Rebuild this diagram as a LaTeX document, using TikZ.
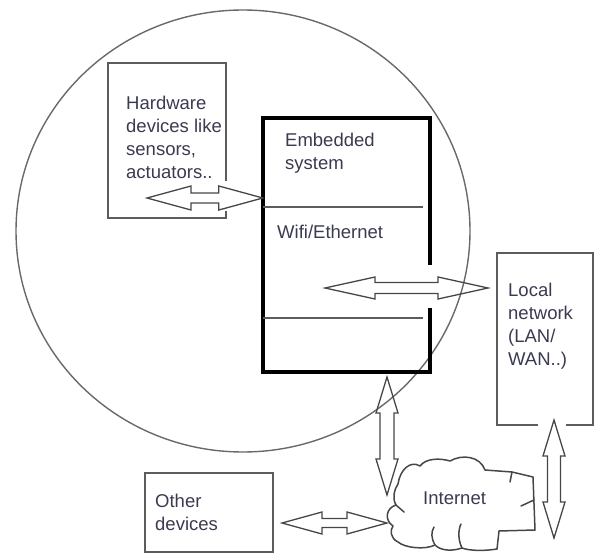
\documentclass[tikz,border=0pt]{standalone}
\usepackage{fontspec}
\setmainfont{Liberation Sans}
\usetikzlibrary{calc}
\definecolor{ink}{RGB}{58,58,80}
\definecolor{edge}{RGB}{92,92,92}
\definecolor{ring}{RGB}{105,105,105}
\definecolor{arrowink}{RGB}{70,70,70}

% hollow two-headed arrow: #1 start, #2 end, #3 head length, #4 head half-width, #5 shaft half-width
\newcommand\hollowarrow[5]{%
  \draw[arrowline] (#1)
   -- ($($(#1)!#3!(#2)$)!#4!90:(#2)$)
   -- ($($(#1)!#3!(#2)$)!#5!90:(#2)$)
   -- ($($(#2)!#3!(#1)$)!#5!-90:(#1)$)
   -- ($($(#2)!#3!(#1)$)!#4!-90:(#1)$)
   -- (#2)
   -- ($($(#2)!#3!(#1)$)!#4!90:(#1)$)
   -- ($($(#2)!#3!(#1)$)!#5!90:(#1)$)
   -- ($($(#1)!#3!(#2)$)!#5!-90:(#2)$)
   -- ($($(#1)!#3!(#2)$)!#4!-90:(#2)$)
   -- cycle;}

% labels are placed by the baseline of their last line
\tikzset{
  lbl/.style={anchor=base west, inner sep=0pt, align=left, text=ink,
              font=\fontsize{18.5}{23}\selectfont},
  slot/.style={draw=none, inner sep=0pt, rectangle},
  frame/.style={draw=edge, line width=1.8pt, line cap=rect, line join=miter},
  heavyframe/.style={draw=black, line width=3.6pt, line cap=rect, line join=miter},
  divider/.style={draw=edge, line width=1.6pt},
  ringline/.style={draw=ring, line width=1.4pt},
  arrowline/.style={draw=arrowink, line width=1.3pt, line join=miter},
  cloudline/.style={draw=arrowink, line width=1.5pt, line join=round, line cap=round},
}

\begin{document}
\begin{tikzpicture}[x=1pt, y=-1pt]
\useasboundingbox (0,0) rectangle (597,556);

% placeholders for the boxes
\node[slot, minimum width=118, minimum height=155] (hw)   at (167,140.5) {};
\node[slot, minimum width=167, minimum height=254] (emb)  at (346.5,245) {};
\node[slot, minimum width=96,  minimum height=172] (lan)  at (545,339) {};
\node[slot, minimum width=128, minimum height=79]  (oth)  at (209,512.5) {};

% the enclosing circle
\draw[ringline] (243,231) ellipse [x radius=227, y radius=221];

% hardware box, open at the lower right
\draw[frame] (226,180) -- (226,63) -- (108,63) -- (108,218) -- (226,218) -- (226,212);
\node[lbl] (hwtext) at (126,179) {Hardware\\devices like\\sensors,\\actuators..};

% embedded system box with its two compartments
\draw[heavyframe] (430,263) -- (430,118) -- (263,118) -- (263,372) -- (430,372) -- (430,310);
\draw[divider] (263,207) -- (423,207);
\draw[divider] (263,318) -- (423,318);
\node[lbl] (embtext) at (285,170) {Embedded\\system};
\node[lbl] (wifitext) at (277,238) {Wifi/Ethernet};

% local network box, open where the link leaves
\draw[frame] (537,425) -- (497,425) -- (497,253) -- (593,253) -- (593,425) -- (567,425);
\node[lbl] (lantext) at (508,365) {Local\\network\\(LAN/\\WAN..)};

% other devices box
\draw[frame] (145,473) rectangle (273,552);
\node[lbl] (othtext) at (155,530) {Other\\devices};

% internet cloud
\draw[cloudline] (398,484)
  .. controls (400,470) and (410,460) .. (420,466)
  .. controls (426,458) and (440,458) .. (450,461)
  .. controls (462,454) and (480,456) .. (485,470)
  -- (512,472) -- (533,477) -- (535,530) -- (499,531) -- (497,549)
  .. controls (485,551) and (470,551) .. (462,548)
  .. controls (450,552) and (440,550) .. (435,545)
  .. controls (425,550) and (405,548) .. (398,542)
  .. controls (390,538) and (390,530) .. (393,526)
  .. controls (384,520) and (386,508) .. (396,505)
  .. controls (392,498) and (394,490) .. (398,484) -- cycle;
\draw[cloudline] (512,472) -- (510,482);
\draw[cloudline] (534,500) -- (521,506);
\draw[cloudline] (462,548) .. controls (458,540) and (458,530) .. (461,524);
\draw[cloudline] (435,545) .. controls (431,538) and (431,532) .. (434,527);
\draw[cloudline] (396,505) -- (404,512);
\node[lbl] (inet) at (423,504) {Internet};

% link end points
\coordinate (hwA)    at (147,198);
\coordinate (embA)   at (emb.west |- hwA);
\coordinate (wifiA)  at (325,288);
\coordinate (lanA)   at (488,288);
\coordinate (embB)   at (387,377);
\coordinate (inetT)  at (387,495);
\coordinate (othA)   at (282,523);
\coordinate (inetL)  at (387,523);
\coordinate (lanB)   at (554,420);
\coordinate (inetR)  at (554,538);

% links
\hollowarrow{hwA}{embA}{44pt}{12pt}{5pt}
\hollowarrow{wifiA}{lanA}{50pt}{11pt}{5.5pt}
\hollowarrow{embB}{inetT}{36pt}{11pt}{7pt}
\hollowarrow{othA}{inetL}{40pt}{11pt}{4.5pt}
\hollowarrow{lanB}{inetR}{36pt}{11pt}{6.5pt}
\end{tikzpicture}
\end{document}
